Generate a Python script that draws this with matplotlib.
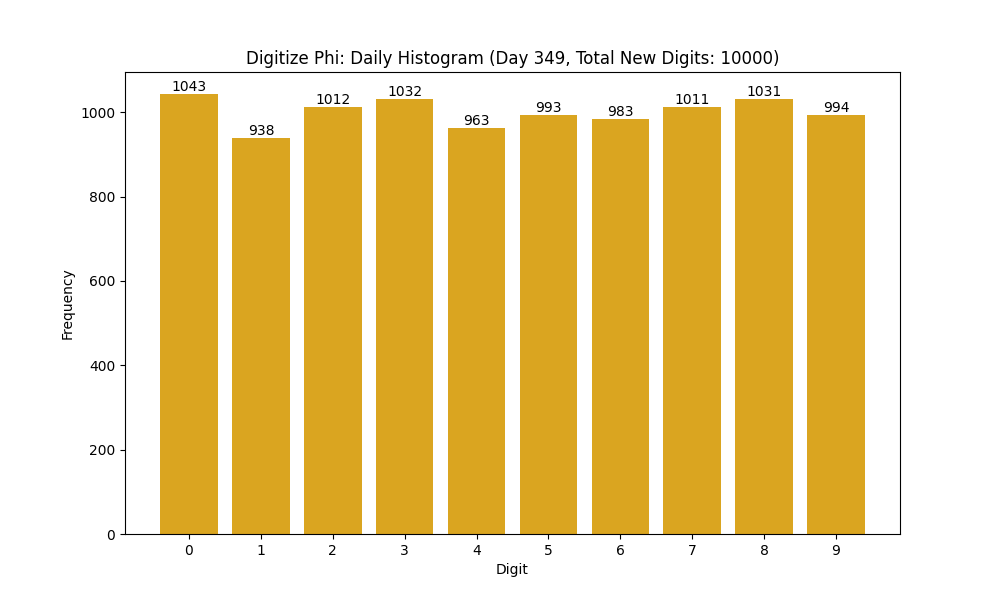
import matplotlib
matplotlib.use("Agg")
import matplotlib.pyplot as plt

# Contagem de digitos do dia
digitos = [0, 1, 2, 3, 4, 5, 6, 7, 8, 9]
frequencias = [1043, 938, 1012, 1032, 963, 993, 983, 1011, 1031, 994]

fig, ax = plt.subplots(figsize=(10, 6), dpi=100)
barras = ax.bar(digitos, frequencias, color="goldenrod")
ax.bar_label(barras)
ax.set_xticks(digitos)
ax.set_xlabel("Digit")
ax.set_ylabel("Frequency")
ax.set_title("Digitize Phi: Daily Histogram (Day 349, Total New Digits: 10000)")
fig.savefig("out.png")
